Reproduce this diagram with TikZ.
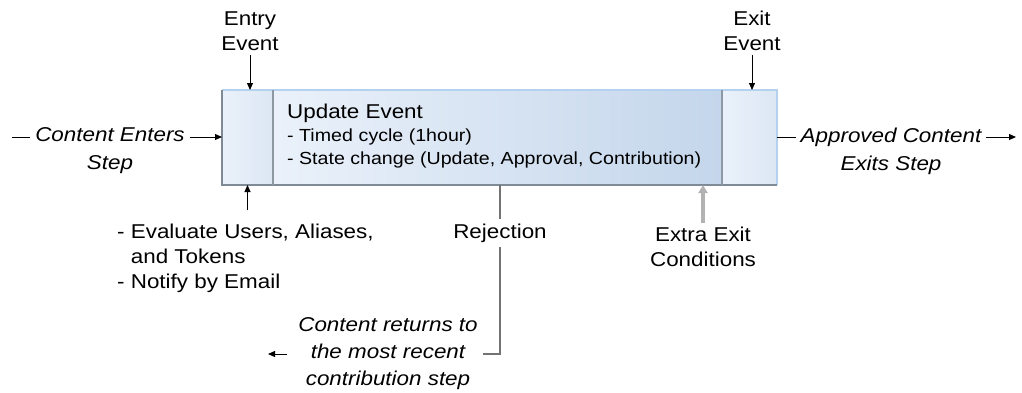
\documentclass[tikz,border=0pt]{standalone}
\usepackage{fontspec}
\setmainfont{Liberation Sans}[FakeStretch=1.12]
\usetikzlibrary{arrows.meta,positioning,calc}

\definecolor{panelight}{HTML}{EAF1FA}
\definecolor{panemid}{HTML}{DCE7F4}
\definecolor{updright}{HTML}{C4D6EB}
\definecolor{edgeblue}{HTML}{B4D2F0}
\definecolor{edgegray}{HTML}{7E8A96}
\definecolor{splitgray}{HTML}{8E98A3}

\tikzset{
  pane/.style={minimum height=95pt, inner sep=0pt, outer sep=0pt,
    left color=panelight, right color=panemid},
  lbl/.style={font=\fontsize{20}{25}\selectfont, align=center, inner sep=4pt},
  flowlbl/.style={lbl, font=\fontsize{20}{28}\selectfont\itshape, inner xsep=5pt},
  tip/.style={-{Triangle[length=7pt,width=6pt]}, line width=1pt},
  grayline/.style={line width=1.4pt, black!55},
}

\begin{document}
\begin{tikzpicture}[x=1pt,y=1pt]
\useasboundingbox (0,0) rectangle (1022,392);

% the step
\node[pane, minimum width=51pt] (entrybox) at (247.5,254.5) {};
\node[pane, minimum width=449pt, right color=updright] (updbox) at (497.5,254.5) {};
\node[pane, minimum width=55pt] (exitbox) at (749.5,254.5) {};
\draw[edgeblue, line width=2pt] (entrybox.north west) -- (exitbox.north east) -- (exitbox.south east);
\draw[edgegray, line width=2.5pt] (entrybox.north west) -- (entrybox.south west) -- (exitbox.south east);
\draw[splitgray, line width=2pt] (updbox.north west) -- (updbox.south west)
  (updbox.north east) -- (updbox.south east);

\node[anchor=west, align=left, inner sep=0pt, font=\fontsize{17.5}{23}\selectfont] (updtext)
  at (287,256) {{\fontsize{20}{23}\selectfont Update Event}\\- Timed\,\,cycle (1hour)\\- State change (Update, Approval, Contribution)};

% events above
\node[lbl] (entry) at (250,361) {Entry\\Event};
\node[lbl] (exit) at (752,361) {Exit\\Event};
\draw[tip] (entry.south) -- (entry.south |- entrybox.north);
\draw[tip] (exit.south) -- (exit.south |- exitbox.north);

% content in and out
\node[flowlbl] (enters) at (110,241) {Content Enters\\Step};
\node[flowlbl] (exits) at (891,241) {Approved Content\\Exits Step};
\coordinate (inL) at (12,255);
\coordinate (outR) at (1016,255);
\draw[line width=1pt] (inL) -- (inL -| enters.west);
\draw[tip] (enters.east |- inL) -- (entrybox.west |- inL);
\draw[line width=1pt] (exitbox.east |- outR) -- (exits.west |- outR);
\draw[tip] (exits.east |- outR) -- (outR);

% below the step
\node[lbl, anchor=west, align=left] (eval) at (113,134)
  {- Evaluate Users, Aliases,\\\phantom{- }and Tokens\\- Notify by Email};
\draw[tip] ($(eval.north -| entrybox.south)+(0,9)$) -- (entrybox.south);

\node[lbl] (rej) at (500,159) {Rejection};
\node[flowlbl, font=\fontsize{20}{27}\selectfont\itshape] (ret) at (388,38)
  {Content returns to\\the most recent\\contribution step};
\coordinate (retL) at (268,38);
\draw[grayline] (rej.north |- updbox.south) -- (rej.north);
\draw[grayline] (rej.south) |- (ret.east);
\draw[tip] ($(ret.west)+(-6,0)$) -- (retL);

\node[lbl] (extra) at (703,145) {Extra Exit\\Conditions};
\draw[-{Triangle[length=8pt,width=9pt]}, line width=3.5pt, black!30] (extra.north) -- (extra.north |- updbox.south);
\end{tikzpicture}
\end{document}
